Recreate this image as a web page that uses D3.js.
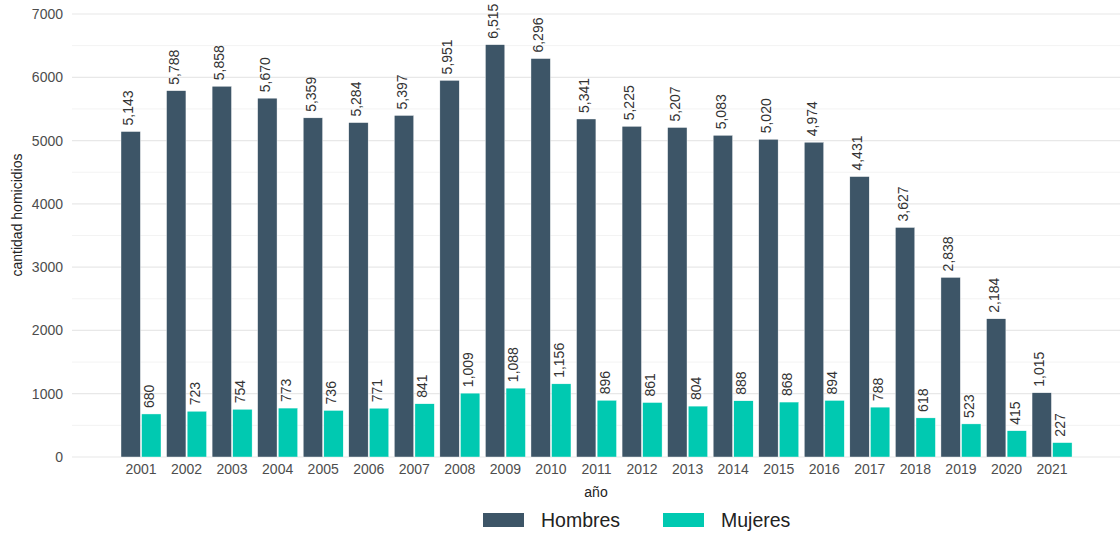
<!DOCTYPE html>
<html><head><meta charset="utf-8">
<script src="https://cdn.jsdelivr.net/npm/d3@7"></script>
<style>body{margin:0;background:#fff}svg{display:block}text{font-family:Arial,"Liberation Sans",sans-serif}</style>
</head><body>
<script>
const years=["2001","2002","2003","2004","2005","2006","2007","2008","2009","2010","2011","2012","2013","2014","2015","2016","2017","2018","2019","2020","2021"];
const series=["Hombres","Mujeres"];
const hombres=[5143,5788,5858,5670,5359,5284,5397,5951,6515,6296,5341,5225,5207,5083,5020,4974,4431,3627,2838,2184,1015];
const mujeres=[680,723,754,773,736,771,841,1009,1088,1156,896,861,804,888,868,894,788,618,523,415,227];
const yTicks=[0,1000,2000,3000,4000,5000,6000,7000];
const colors=["#3d5567","#00c9b1"];

const W=1120,H=533;
const svg=d3.select("body").append("svg").attr("width",W).attr("height",H);
const y=d3.scaleLinear().domain([0,7000]).range([457,14]);
const x=d3.scaleBand().domain(years).range([118.2,1074.8]).padding(0);
const xi=d3.scaleBand().domain(series).range([2.8,42.8]).paddingInner(0.06);
const fmt=d3.format(",");
const gx0=72,gx1=W;
svg.append("g").selectAll("line").data(d3.range(500,7000,1000)).join("line")
 .attr("x1",gx0).attr("x2",gx1).attr("y1",d=>y(d)).attr("y2",d=>y(d))
 .attr("stroke","#f3f3f3").attr("stroke-width",1);
svg.append("g").selectAll("line").data(yTicks).join("line")
 .attr("x1",gx0).attr("x2",gx1).attr("y1",d=>y(d)).attr("y2",d=>y(d))
 .attr("stroke","#e8e8e8").attr("stroke-width",1.2);
const ya=svg.append("g").attr("transform","translate(68,0)").call(d3.axisLeft(y).tickValues(yTicks).tickSize(0).tickPadding(5).tickFormat(d3.format("d")));
ya.select(".domain").remove();
ya.selectAll("text").attr("font-size",14).attr("fill","#4d4d4d").attr("font-family","Arial,'Liberation Sans',sans-serif");
const xa=svg.append("g").attr("transform","translate(0,457)").call(d3.axisBottom(x).tickSize(0).tickPadding(7));
xa.select(".domain").remove();
xa.selectAll("text").attr("font-size",14).attr("fill","#4d4d4d").attr("font-family","Arial,'Liberation Sans',sans-serif");

const data=years.map((yr,i)=>({yr,vals:[{s:"Hombres",v:hombres[i],c:colors[0]},{s:"Mujeres",v:mujeres[i],c:colors[1]}]}));
const g=svg.append("g").selectAll("g").data(data).join("g").attr("transform",d=>`translate(${x(d.yr)},0)`);
g.selectAll("rect").data(d=>d.vals).join("rect")
 .attr("x",d=>xi(d.s)).attr("width",xi.bandwidth())
 .attr("y",d=>y(d.v)).attr("height",d=>y(0)-y(d.v))
 .attr("fill",d=>d.c).attr("stroke","#ffffff").attr("stroke-width",0.4);
g.selectAll("text").data(d=>d.vals).join("text")
 .attr("transform",d=>`translate(${xi(d.s)+xi.bandwidth()/2-1},${y(d.v)-6}) rotate(-90)`)
 .attr("dominant-baseline","middle").attr("text-anchor","start")
 .attr("font-size",14).attr("fill","#333")
 .text(d=>fmt(d.v));

svg.append("text").attr("transform","translate(18,215) rotate(-90)").attr("text-anchor","middle")
 .attr("dominant-baseline","middle").attr("font-size",14).attr("fill","#222").text("cantidad homicidios");
svg.append("text").attr("x",596).attr("y",497).attr("text-anchor","middle").attr("font-size",14).attr("fill","#222").text("año");

const leg=svg.append("g");
const legX=[483,663];
series.forEach((s,i)=>{
 leg.append("rect").attr("x",legX[i]).attr("y",513).attr("width",41).attr("height",14).attr("fill",colors[i]);
 leg.append("text").attr("x",legX[i]+58).attr("y",527).attr("font-size",19.5).attr("fill","#222").text(s);
});
</script>
</body></html>
